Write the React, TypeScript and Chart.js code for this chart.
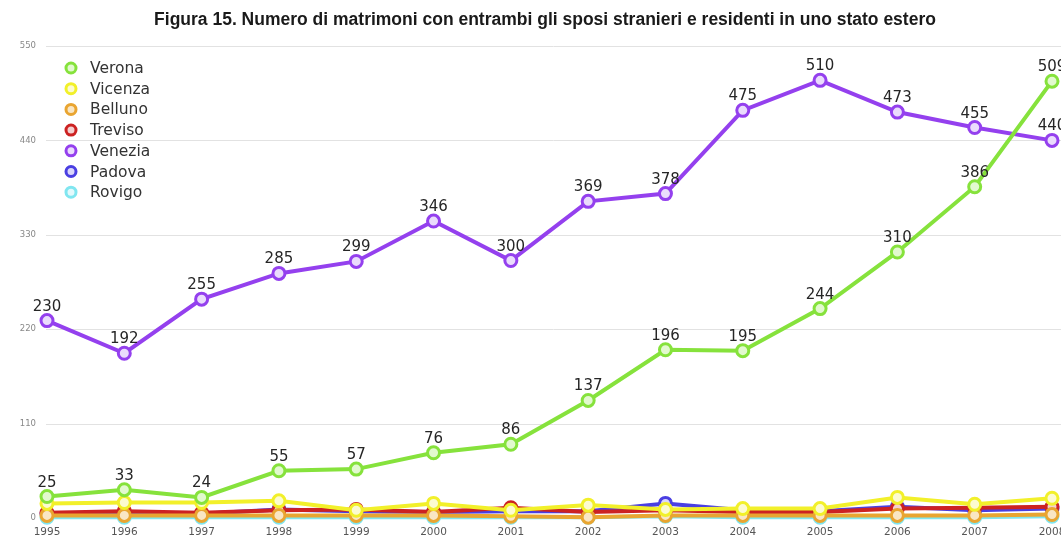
import React, { useEffect, useRef } from "react";
import { Chart, registerables } from "chart.js";

Chart.register(...registerables);

const years = [1995, 1996, 1997, 1998, 1999, 2000, 2001, 2002, 2003, 2004, 2005, 2006, 2007, 2008];
const verona = [25, 33, 24, 55, 57, 76, 86, 137, 196, 195, 244, 310, 386, 509];
const vicenza = [17, 18, 18, 20, 9, 17, 9, 15, 10, 11, 11, 24, 16, 23];
const belluno = [3, 3, 3, 3, 3, 3, 2, 1, 3, 3, 3, 3, 3, 4];
const treviso = [6, 8, 6, 9, 10, 7, 12, 7, 9, 7, 7, 11, 12, 13];
const venezia = [230, 192, 255, 285, 299, 346, 300, 369, 378, 475, 510, 473, 455, 440];
const padova = [5, 6, 5, 10, 8, 7, 8, 8, 17, 9, 8, 13, 9, 11];
const rovigo = [1, 1, 1, 1, 1, 1, 1, 1, 2, 1, 1, 1, 1, 2];
const yTicks = [0, 110, 220, 330, 440, 550];

const TITLE = "Figura 15. Numero di matrimoni con entrambi gli sposi stranieri e residenti in uno stato estero";

const seriesDefs = [
  { label: "Verona", data: verona, color: "#86e23c", fill: "#e2f9cf", labels: true },
  { label: "Vicenza", data: vicenza, color: "#f2f02a", fill: "#fcfbd0", labels: false },
  { label: "Belluno", data: belluno, color: "#e9a531", fill: "#f9e6c4", labels: false },
  { label: "Treviso", data: treviso, color: "#cc2222", fill: "#f4d0d0", labels: false },
  { label: "Venezia", data: venezia, color: "#9440ee", fill: "#eadcfc", labels: true },
  { label: "Padova", data: padova, color: "#4a3fe2", fill: "#dad7fa", labels: false },
  { label: "Rovigo", data: rovigo, color: "#80e6f0", fill: "#e3f9fc", labels: false },
];

const WIDE = "'DejaVu Sans', Verdana, sans-serif";

const overlayPlugin = {
  id: "overlay",
  beforeDatasetsDraw(chart: any) {
    const ctx = chart.ctx;
    const ys = chart.scales.y;
    ctx.save();
    ctx.strokeStyle = "#e2e2e2";
    ctx.lineWidth = 1;
    yTicks.forEach((v) => {
      if (v === 0) return;
      const py = Math.round(ys.getPixelForValue(v)) + 0.5;
      ctx.beginPath();
      ctx.moveTo(46, py);
      ctx.lineTo(1061, py);
      ctx.stroke();
    });
    ctx.restore();
  },
  afterDatasetsDraw(chart: any) {
    const ctx = chart.ctx;
    ctx.save();
    ctx.font = `15px ${WIDE}`;
    ctx.fillStyle = "#262626";
    ctx.textAlign = "center";
    ctx.textBaseline = "alphabetic";
    chart.data.datasets.forEach((ds: any, i: number) => {
      if (!seriesDefs[i].labels) return;
      const meta = chart.getDatasetMeta(i);
      meta.data.forEach((pt: any, j: number) => {
        ctx.fillText(String(ds.data[j].y), pt.x, pt.y - 10);
      });
    });
    ctx.restore();
  },
  afterDraw(chart: any) {
    const ctx = chart.ctx;
    ctx.save();
    ctx.font = "bold 17.5px 'Liberation Sans', Arial, sans-serif";
    ctx.fillStyle = "#1a1a1a";
    ctx.textAlign = "center";
    ctx.textBaseline = "middle";
    ctx.fillText(TITLE, 545, 20);
    ctx.font = `15.5px ${WIDE}`;
    ctx.textAlign = "left";
    seriesDefs.forEach((s, i) => {
      const y = 68 + i * 20.7;
      ctx.beginPath();
      ctx.arc(71, y, 5, 0, Math.PI * 2);
      ctx.fillStyle = s.fill;
      ctx.fill();
      ctx.lineWidth = 3;
      ctx.strokeStyle = s.color;
      ctx.stroke();
      ctx.fillStyle = "#333";
      ctx.fillText(s.label, 90, y + 1);
    });
    ctx.restore();
  },
};

export default function App() {
  const ref = useRef<HTMLCanvasElement>(null);
  useEffect(() => {
    if (!ref.current) return;
    const chart = new Chart(ref.current, {
      type: "line",
      data: {
        datasets: seriesDefs.map((s) => ({
          label: s.label,
          data: years.map((yr, i) => ({ x: yr, y: s.data[i] })),
          borderColor: s.color,
          backgroundColor: s.fill,
          pointBackgroundColor: s.fill,
          pointBorderColor: s.color,
          pointBorderWidth: 3,
          pointRadius: 6,
          borderWidth: 4,
          tension: 0,
          clip: false as any,
        })),
      },
      options: {
        animation: false,
        responsive: false,
        maintainAspectRatio: false,
        layout: { padding: { top: 46, right: 9, left: 0, bottom: 0 } },
        plugins: { legend: { display: false }, tooltip: { enabled: false }, title: { display: false } },
        scales: {
          x: {
            type: "linear",
            min: 1995,
            max: 2008,
            afterFit: (s: any) => { s.height = 22; s.paddingLeft = 0; s.paddingRight = 0; },
            afterBuildTicks: (s: any) => { s.ticks = years.map((v) => ({ value: v })); },
            grid: { display: false, drawTicks: false },
            border: { display: false },
            ticks: {
              padding: 8,
              color: "#555",
              font: { size: 10.5, family: WIDE },
              callback: (v: any) => String(v),
              maxRotation: 0,
              autoSkip: false,
            },
          },
          y: {
            min: 0,
            max: 550,
            afterFit: (s: any) => { s.width = 47; s.paddingTop = 0; s.paddingBottom = 0; },
            afterBuildTicks: (s: any) => { s.ticks = yTicks.map((v) => ({ value: v })); },
            grid: { display: false, drawTicks: false },
            border: { display: false },
            ticks: {
              padding: 11,
              color: "#888",
              font: { size: 8.5, family: WIDE },
            },
          },
        },
      },
      plugins: [overlayPlugin],
    });
    return () => chart.destroy();
  }, []);
  return (
    <div style={{ position: "absolute", left: 0, top: 0, width: 1061, height: 540, background: "#fff" }}>
      <canvas ref={ref} width={1061} height={540} />
    </div>
  );
}
